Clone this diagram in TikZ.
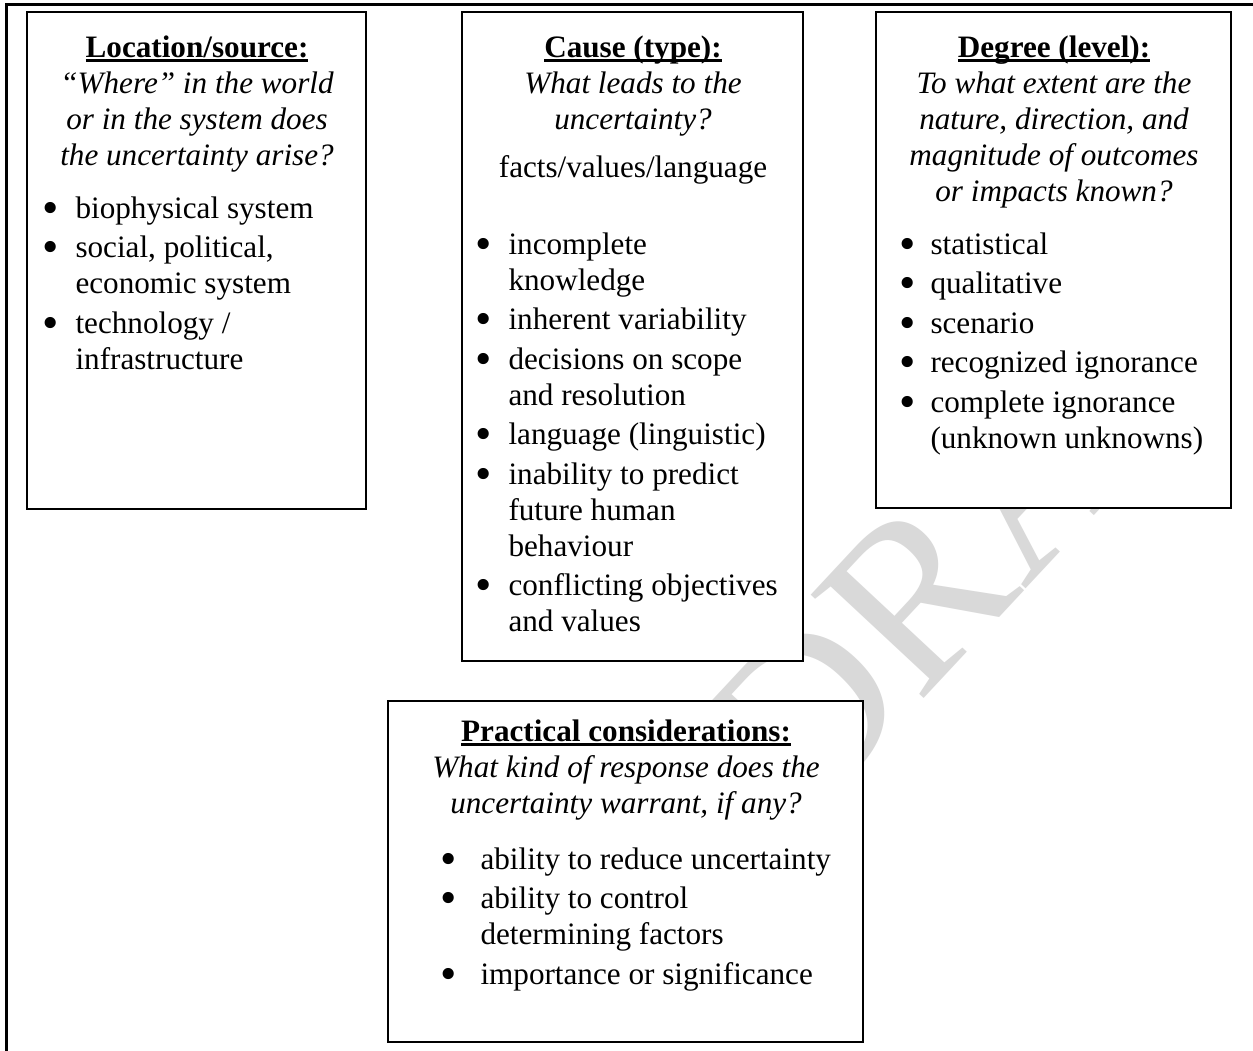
\documentclass[tikz,border=0pt]{standalone}
\usepackage{fontspec}
\setmainfont{Liberation Serif}
\usetikzlibrary{fit}

\newlength\px
\setlength\px{0.385pt}

% bold heading with a thick underline
\newcommand{\panelhead}[1]{\leavevmode\setbox0=\hbox{\bfseries #1}\rlap{\rule[-1.9pt]{\wd0}{0.95pt}}\box0}
% text block of a panel, first baseline is the node's base
\newcommand{\panelbody}[2]{\begin{minipage}[t]{#1}\fontsize{12}{13.86}\selectfont\parskip=0pt #2\end{minipage}}
\newcommand{\bigdot}{\makebox[0pt]{\raisebox{-2.1pt}{\fontsize{18}{18}\selectfont\textbullet}}}
% #1 text indent, #2 bullet centre to text
\newenvironment{dotlist}[2]{\begin{list}{\bigdot}{\setlength\leftmargin{#1}%
  \setlength\labelsep{#2}\setlength\labelwidth{0pt}%
  \setlength\itemsep{3.5\px}\setlength\parsep{0pt}\setlength\topsep{0pt}%
  \setlength\partopsep{0pt}\setlength\itemindent{0pt}}\raggedright}{\end{list}}

\tikzset{
  panel/.style={draw, line width=0.6pt, fill=white, inner sep=0pt},
  paneltext/.style={anchor=base west, inner sep=0pt},
  watermark/.style={text=black!15, rotate=47, anchor=base west, inner sep=0pt,
    font=\fontsize{90}{90}\selectfont},
}

\begin{document}
\begin{tikzpicture}[x=1\px, y=-1\px]
  \useasboundingbox[fill=white] (0,0) rectangle (1253,1051);
  \begin{scope}
    \clip (0,0) rectangle (1231,1051);
    \node[watermark] (draft) at (803,828) {DRAFT};
  \end{scope}
  \draw[line width=1.2pt] (6.5,1051) -- (6.5,4.5) -- (1253,4.5);

  % the four panels
  \node[panel, fit={(27,12) (366,509)}] (loc) {};
  \node[panel, fit={(462,12) (803,661)}] (cause) {};
  \node[panel, fit={(876,12) (1231,508)}] (degree) {};
  \node[panel, fit={(388,701) (863,1042)}] (practical) {};

  \node[paneltext] (loctext) at (35,57) {\panelbody{323\px}{%
    \centering\panelhead{Location/source:}\\
    {\itshape “Where” in the world\\or in the system does\\the uncertainty arise?\par}
    \vspace{17\px}
    \begin{dotlist}{40\px}{25\px}
      \item biophysical system
      \item social, political,\\economic system
      \item technology /\\infrastructure
    \end{dotlist}}};

  \node[paneltext] (causetext) at (470,57) {\panelbody{325\px}{%
    \centering\panelhead{Cause (type):}\\
    {\itshape What leads to the\\uncertainty?\par}
    \vspace{12\px}
    facts/values/language\par
    \vspace{41\px}
    \begin{dotlist}{38\px}{25\px}
      \item incomplete\\knowledge
      \item inherent variability
      \item decisions on scope\\and resolution
      \item language (linguistic)
      \item inability to predict\\future human\\behaviour
      \item conflicting objectives\\and values
    \end{dotlist}}};

  \node[paneltext] (degreetext) at (884,57) {\panelbody{339\px}{%
    \centering\panelhead{Degree (level):}\\
    {\itshape To what extent are the\\nature, direction, and\\magnitude of outcomes\\or impacts known?\par}
    \vspace{17\px}
    \begin{dotlist}{46\px}{23\px}
      \item statistical
      \item qualitative
      \item scenario
      \item recognized ignorance
      \item complete ignorance\\(unknown unknowns)
    \end{dotlist}}};

  \node[paneltext] (practicaltext) at (396,741) {\panelbody{459\px}{%
    \centering\panelhead{Practical considerations:}\\
    {\itshape What kind of response does the\\uncertainty warrant, if any?\par}
    \vspace{20\px}
    \begin{dotlist}{84\px}{32\px}
      \item ability to reduce uncertainty
      \item ability to control\\determining factors
      \item importance or significance
    \end{dotlist}}};
\end{tikzpicture}
\end{document}
